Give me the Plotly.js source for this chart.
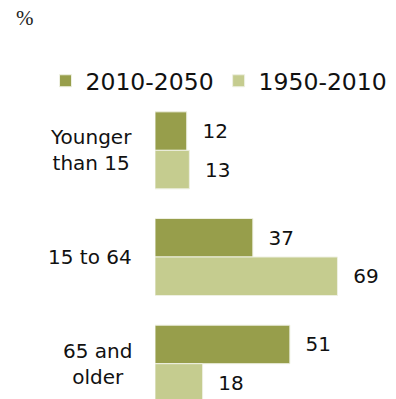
<!DOCTYPE html>
<html>
<head>
<meta charset="utf-8">
<script src="https://cdn.plot.ly/plotly-3.0.1.min.js"></script>
<style>html,body{margin:0;padding:0;background:#fff;}#chart{width:396px;height:399px;}</style>
</head>
<body>
<div id="chart"></div>
<script>
const categories = ["Younger than 15", "15 to 64", "65 and older"];
const categoryLabels = ["Younger<br>than 15", "15 to 64", "65 and<br>older"];
const series2010to2050 = [12, 37, 51];
const series1950to2010 = [13, 69, 18];
const seriesNames = ["2010-2050", "1950-2010"];
const seriesColors = ["#979E4B", "#C5CC8F"];

const font = "DejaVu Sans, Verdana, sans-serif";

function barTrace(name, values, color) {
  return {
    type: "bar",
    orientation: "h",
    name: name,
    y: categories,
    x: values,
    text: values.map(v => "\u00a0\u00a0" + v),
    texttemplate: "%{text}",
    textposition: "outside",
    constraintext: "none",
    cliponaxis: true,
    textfont: {family: font, size: 20, color: "#111"},
    marker: {color: color, line: {color: "#EEF0E2", width: 1}},
    hoverinfo: "skip"
  };
}

const data = [
  barTrace(seriesNames[0], series2010to2050, seriesColors[0]),
  barTrace(seriesNames[1], series1950to2010, seriesColors[1])
];

const annotations = categories.map((c, i) => ({
  xref: "paper", yref: "y",
  x: -0.09, y: c,
  xanchor: "right", yanchor: "middle",
  align: "center",
  text: categoryLabels[i],
  showarrow: false,
  font: {family: font, size: 20, color: "#111"}
}));
annotations.push({
  xref: "paper", yref: "paper",
  x: -0.593, y: 1.262,
  xanchor: "left", yanchor: "middle",
  text: "%",
  showarrow: false,
  font: {family: "Liberation Serif, Times New Roman, serif", size: 21, color: "#222"}
});

const layout = {
  width: 396, height: 399,
  margin: {l: 155, r: 3, t: 97, b: 0, pad: 0},
  paper_bgcolor: "#fff",
  plot_bgcolor: "#fff",
  barmode: "group",
  bargap: 0.278,
  bargroupgap: 0,
  showlegend: true,
  legend: {
    orientation: "h",
    x: -0.46, xanchor: "left",
    y: 1.053, yanchor: "middle",
    font: {family: font, size: 23.5, color: "#111"},
    bgcolor: "rgba(0,0,0,0)",
    borderwidth: 0,
    traceorder: "normal"
  },
  xaxis: {
    range: [0, 90],
    visible: false,
    fixedrange: true
  },
  yaxis: {
    type: "category",
    range: [2.331, -0.5],
    showticklabels: false,
    showgrid: false,
    zeroline: false,
    showline: false,
    ticks: "",
    fixedrange: true
  },
  annotations: annotations
};

Plotly.newPlot("chart", data, layout, {staticPlot: true, displayModeBar: false});
</script>
</body>
</html>
